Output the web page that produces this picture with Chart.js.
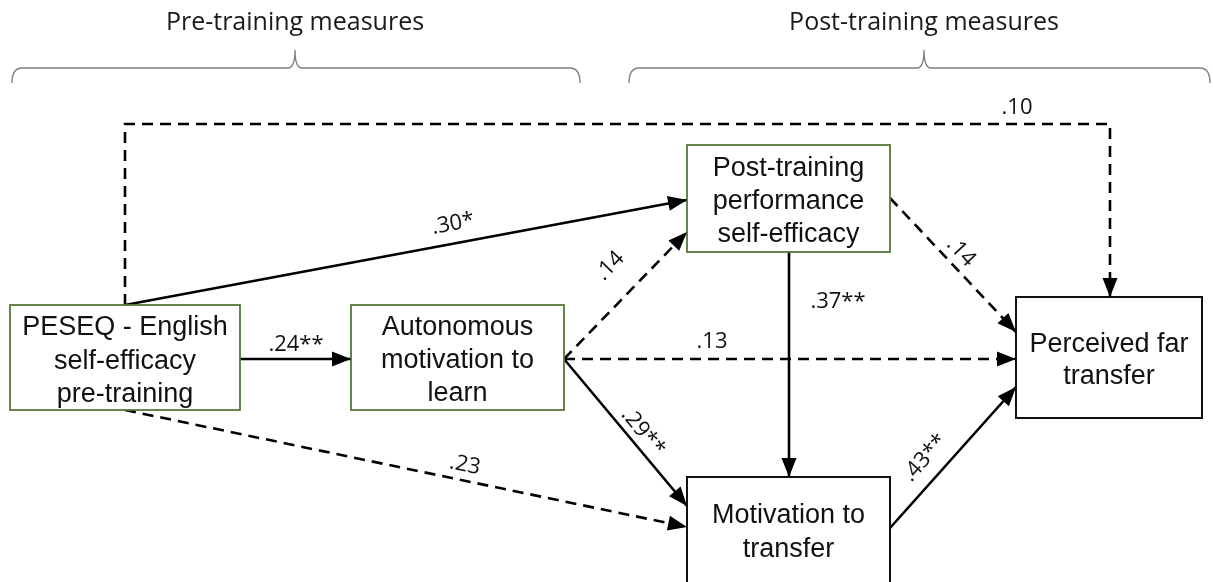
<!DOCTYPE html>
<html>
<head>
<meta charset="utf-8">
<title>Path model</title>
<script src="https://cdn.jsdelivr.net/npm/chart.js@4.4.1/dist/chart.umd.min.js"></script>
<style>
  html, body { margin: 0; padding: 0; background: #fff; }
  #wrap { width: 1213px; height: 582px; position: relative; }
</style>
</head>
<body>
<div id="wrap"><canvas id="path-chart"></canvas></div>
<script>
/* ===============================
   DATA
================================= */
const phaseLabels = ["Pre-training measures", "Post-training measures"];

const nodeLabels = [
  ["PESEQ - English", "self-efficacy", "pre-training"],
  ["Autonomous", "motivation to", "learn"],
  ["Post-training", "performance", "self-efficacy"],
  ["Motivation to", "transfer"],
  ["Perceived far", "transfer"],
];

// paths: from node -> to node, standardised coefficient
const pathFrom = [0, 0, 0, 0, 1, 1, 1, 2, 2, 3];
const pathTo = [1, 2, 3, 4, 2, 4, 3, 3, 4, 4];
const pathCoefficients = [".24**", ".30*", ".23", ".10", ".14", ".13", ".29**", ".37**", ".14", ".43**"];
const pathSignificant = [true, true, false, false, false, false, true, true, false, true];

/* ===============================
   LAYOUT (diagram units = px)
================================= */
const nodeBoxes = [
  [10, 305, 240, 410],
  [351, 305, 564, 410],
  [687, 145, 890, 252],
  [687, 477, 890, 600],
  [1016, 297, 1202, 418],
];
const nodeGreen = [true, true, true, false, false];
const nodeBaselines = [
  [335, 369, 402],
  [335, 368, 401],
  [176, 209, 242],
  [523, 557],
  [352, 384],
];

const pathPoints = [
  [[240, 359], [351, 359]],
  [[125, 305], [687, 200]],
  [[125, 410], [687, 527]],
  [[125, 305], [125, 124], [1110, 124], [1110, 297]],
  [[564, 359], [687, 232]],
  [[564, 359], [1016, 359]],
  [[564, 359], [687, 506]],
  [[789, 252], [789, 477]],
  [[890, 198], [1016, 332]],
  [[890, 528], [1016, 387]],
];
const labelAnchors = [
  [296, 345], [453, 224], [465, 465], [1017, 108], [610, 266],
  [712, 342], [643, 432], [838, 302], [961, 252], [925, 458],
];

const braces = [[12, 580, 295], [629, 1210, 924]];
const BRACE_TOP = 68;

/* ===============================
   HELPERS
================================= */
function px(chart, x) { return chart.scales.x.getPixelForValue(x); }
function py(chart, y) { return chart.scales.y.getPixelForValue(y); }

function drawBrace(chart, ctx, b) {
  const [x0, x1, xm] = b;
  const yb = py(chart, 83), yt = py(chart, BRACE_TOP), yp = py(chart, 50);
  const a = px(chart, x0), c = px(chart, x1), m = px(chart, xm);
  ctx.beginPath();
  ctx.moveTo(a, yb);
  ctx.quadraticCurveTo(a, yt, a + 10, yt);
  ctx.lineTo(m - 7, yt);
  ctx.quadraticCurveTo(m, yt, m, yp);
  ctx.quadraticCurveTo(m, yt, m + 7, yt);
  ctx.lineTo(c - 10, yt);
  ctx.quadraticCurveTo(c, yt, c, yb);
  ctx.stroke();
}

function drawArrowHead(ctx, x0, y0, x1, y1) {
  const ang = Math.atan2(y1 - y0, x1 - x0);
  const len = 19, half = 7.5;
  ctx.save();
  ctx.translate(x1, y1);
  ctx.rotate(ang);
  ctx.beginPath();
  ctx.moveTo(0, 0);
  ctx.lineTo(-len, -half);
  ctx.lineTo(-len, half);
  ctx.closePath();
  ctx.fill();
  ctx.restore();
}

/* ===============================
   DIAGRAM PLUGIN
================================= */
const diagramPlugin = {
  id: "diagram",
  beforeDatasetsDraw(chart) {
    const ctx = chart.ctx;
    ctx.save();
    // phase headers + braces
    ctx.strokeStyle = "#808080";
    ctx.lineWidth = 1.4;
    braces.forEach(b => drawBrace(chart, ctx, b));
    ctx.fillStyle = "#1a1a1a";
    ctx.font = "25px 'Open Sans'";
    ctx.textAlign = "center";
    ctx.textBaseline = "alphabetic";
    phaseLabels.forEach((t, i) => ctx.fillText(t, px(chart, braces[i][2]), py(chart, 30)));
    ctx.restore();
  },
  afterDatasetsDraw(chart) {
    const ctx = chart.ctx;
    ctx.save();

    // boxes
    nodeBoxes.forEach((bx, i) => {
      const x0 = px(chart, bx[0]), y0 = py(chart, bx[1]);
      const x1 = px(chart, bx[2]), y1 = py(chart, bx[3]);
      ctx.fillStyle = "#fff";
      ctx.fillRect(x0, y0, x1 - x0, y1 - y0);
      ctx.strokeStyle = nodeGreen[i] ? "#56783a" : "#111";
      ctx.lineWidth = nodeGreen[i] ? 1.8 : 2;
      ctx.strokeRect(x0, y0, x1 - x0, y1 - y0);
      ctx.fillStyle = "#111";
      ctx.font = "27px 'Liberation Sans', Arial, sans-serif";
      ctx.textAlign = "center";
      ctx.textBaseline = "alphabetic";
      const cx = (x0 + x1) / 2;
      nodeLabels[i].forEach((line, j) => ctx.fillText(line, cx, py(chart, nodeBaselines[i][j])));
    });

    // arrow heads
    ctx.fillStyle = "#000";
    chart.data.datasets.forEach(ds => {
      const n = ds.data.length;
      const a = ds.data[n - 2], b = ds.data[n - 1];
      drawArrowHead(ctx, px(chart, a.x), py(chart, a.y), px(chart, b.x), py(chart, b.y));
    });

    // coefficients
    ctx.font = "22px 'Open Sans'";
    ctx.textAlign = "center";
    ctx.textBaseline = "middle";
    ctx.fillStyle = "#111";
    pathCoefficients.forEach((txt, i) => {
      const p = pathPoints[i];
      const dx = px(chart, p[1][0]) - px(chart, p[0][0]);
      const dy = py(chart, p[1][1]) - py(chart, p[0][1]);
      const rot = dx !== 0 && dy !== 0 ? Math.atan2(dy, dx) : 0;
      ctx.save();
      ctx.translate(px(chart, labelAnchors[i][0]), py(chart, labelAnchors[i][1]));
      ctx.rotate(rot);
      ctx.fillText(txt, 0, 0);
      ctx.restore();
    });

    ctx.restore();
  },
};

/* ===============================
   CHART
================================= */
const canvas = document.getElementById("path-chart");

new Chart(canvas, {
  type: "scatter",
  data: {
    datasets: pathPoints.map((pts, i) => ({
      label: pathCoefficients[i],
      data: pts.map(([x, y]) => ({ x, y })),
      showLine: true,
      borderColor: "#000",
      borderWidth: 2.6,
      borderDash: pathSignificant[i] ? [] : [11, 7],
      pointRadius: 0,
      tension: 0,
      clip: false,
    })),
  },
  options: {
    responsive: true,
    maintainAspectRatio: false,
    animation: false,
    events: [],
    layout: { padding: 0 },
    plugins: {
      legend: { display: false },
      tooltip: { enabled: false },
    },
    scales: {
      x: { type: "linear", min: 0, max: 1213, display: false },
      y: { type: "linear", min: 0, max: 582, reverse: true, display: false },
    },
  },
  plugins: [diagramPlugin],
});
</script>
</body>
</html>
